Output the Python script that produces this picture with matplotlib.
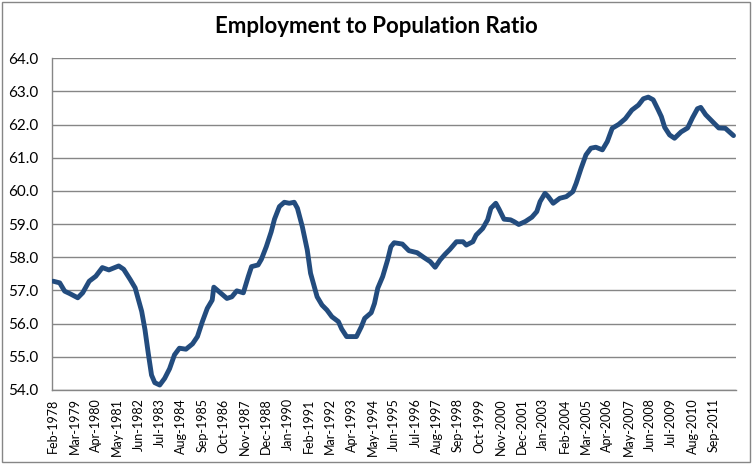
"""Employment to population ratio line chart."""

import matplotlib
matplotlib.use("Agg")
import matplotlib.pyplot as plt
import pandas as pd
from matplotlib.patches import Rectangle

dates = [
    "1978-02", "1978-06", "1978-09", "1978-12", "1979-05", "1979-08", "1979-12",
    "1980-04", "1980-08", "1980-12", "1981-06", "1981-09", "1982-01", "1982-04",
    "1982-08", "1982-10", "1982-12", "1983-02", "1983-04", "1983-07", "1983-10",
    "1984-01", "1984-04", "1984-07", "1984-11", "1985-03", "1985-06", "1985-09",
    "1985-12", "1986-03", "1986-04", "1986-08", "1986-12", "1987-03", "1987-06",
    "1987-10", "1988-01", "1988-03", "1988-07", "1988-09", "1988-12", "1989-03",
    "1989-05", "1989-08", "1989-11", "1990-02", "1990-05", "1990-07", "1990-10",
    "1991-01", "1991-03", "1991-07", "1991-10", "1992-01", "1992-04", "1992-08",
    "1992-10", "1993-01", "1993-07", "1993-10", "1993-12", "1994-04", "1994-06",
    "1994-08", "1994-11", "1995-02", "1995-04", "1995-06", "1995-11", "1996-03",
    "1996-08", "1996-12", "1997-04", "1997-07", "1997-10", "1998-01", "1998-04",
    "1998-08", "1998-12", "1999-02", "1999-06", "1999-08", "1999-12", "2000-03",
    "2000-05", "2000-08", "2000-10", "2001-01", "2001-05", "2001-07", "2001-10",
    "2002-02", "2002-06", "2002-09", "2002-11", "2003-02", "2003-04", "2003-07",
    "2003-11", "2004-03", "2004-07", "2004-09", "2004-12", "2005-03", "2005-06",
    "2005-09", "2006-01", "2006-04", "2006-07", "2006-11", "2007-03", "2007-07",
    "2007-11", "2008-02", "2008-05", "2008-08", "2008-11", "2009-01", "2009-03",
    "2009-06", "2009-09", "2010-01", "2010-05", "2010-08", "2010-11", "2011-01",
    "2011-04", "2011-08", "2011-12", "2012-04", "2012-09",
]
ratio = [
    57.28, 57.23, 56.98, 56.91, 56.78, 56.93, 57.28,
    57.43, 57.69, 57.62, 57.74, 57.64, 57.33, 57.08,
    56.37, 55.82, 55.11, 54.45, 54.22, 54.15, 54.35,
    54.64, 55.06, 55.26, 55.23, 55.39, 55.61, 56.06,
    56.46, 56.71, 57.10, 56.93, 56.76, 56.81, 56.99,
    56.93, 57.42, 57.72, 57.77, 57.94, 58.32, 58.77,
    59.15, 59.53, 59.66, 59.63, 59.66, 59.48, 58.92,
    58.22, 57.52, 56.81, 56.56, 56.41, 56.21, 56.06,
    55.84, 55.61, 55.61, 55.91, 56.16, 56.33, 56.61,
    57.07, 57.42, 57.92, 58.32, 58.44, 58.40, 58.20,
    58.14, 58.00, 57.87, 57.70, 57.92, 58.09, 58.24,
    58.47, 58.47, 58.37, 58.47, 58.67, 58.87, 59.13,
    59.48, 59.63, 59.45, 59.15, 59.13, 59.08, 58.99,
    59.08, 59.21, 59.38, 59.68, 59.93, 59.83, 59.63,
    59.78, 59.83, 59.98, 60.23, 60.68, 61.09, 61.29,
    61.32, 61.24, 61.49, 61.89, 62.01, 62.18, 62.44,
    62.59, 62.78, 62.83, 62.75, 62.45, 62.24, 61.92,
    61.69, 61.59, 61.78, 61.90, 62.21, 62.48, 62.52,
    62.30, 62.10, 61.90, 61.89, 61.67,
]
tick_labels = [
    "Feb-1978", "Mar-1979", "Apr-1980", "May-1981", "Jun-1982", "Jul-1983",
    "Aug-1984", "Sep-1985", "Oct-1986", "Nov-1987", "Dec-1988", "Jan-1990",
    "Feb-1991", "Mar-1992", "Apr-1993", "May-1994", "Jun-1995", "Jul-1996",
    "Aug-1997", "Sep-1998", "Oct-1999", "Nov-2000", "Dec-2001", "Jan-2003",
    "Feb-2004", "Mar-2005", "Apr-2006", "May-2007", "Jun-2008", "Jul-2009",
    "Aug-2010", "Sep-2011",
]
y_ticks = [54, 55, 56, 57, 58, 59, 60, 61, 62, 63, 64]


def month_index(labels, fmt):
    d = pd.to_datetime(labels, format=fmt)
    return (d.year - 1978) * 12 + d.month - 2


plt.rcParams["font.family"] = ["Lato", "DejaVu Sans"]

fig = plt.figure(figsize=(7.52, 4.65), dpi=100)
ax = fig.add_axes([0.0696, 0.1613, 0.9091, 0.7133])

x = month_index(dates, "%Y-%m")
ax.plot(x, ratio, color="#234c7e", linewidth=3.5, solid_capstyle="round",
        solid_joinstyle="round", zorder=3)

ax.set_xlim(-0.5, 416.5)
ax.set_ylim(54, 64)
ax.set_yticks(y_ticks)
ax.set_yticklabels([f"{v:.1f}" for v in y_ticks], fontsize=11)
ax.set_xticks(month_index(tick_labels, "%b-%Y"))
ax.set_xticklabels(tick_labels, rotation=90, fontsize=9)
ax.tick_params(length=0)
ax.tick_params(axis="y", pad=10)
ax.tick_params(axis="x", pad=6)

ax.grid(axis="y", color="#868686", linewidth=1)
ax.set_axisbelow(True)
for side in ("top", "right"):
    ax.spines[side].set_visible(False)
for side in ("left", "bottom"):
    ax.spines[side].set_color("#868686")
    ax.spines[side].set_linewidth(1)

fig.text(0.5, 0.942, "Employment to Population Ratio", ha="center", va="center",
         fontsize=16, fontweight="bold")

fig.patches.append(Rectangle((0.003, 0.006), 0.994, 0.99, transform=fig.transFigure,
                             fill=False, edgecolor="#868686", linewidth=1))

fig.savefig("out.png", dpi=100)
